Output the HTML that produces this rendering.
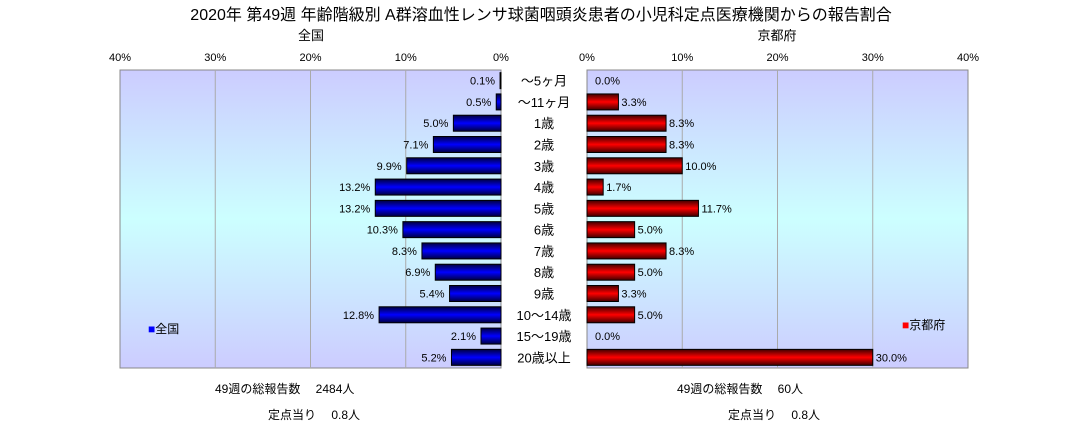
<!DOCTYPE html>
<html><head><meta charset="utf-8"><style>
body{margin:0;background:#fff;width:1083px;height:429px;overflow:hidden;font-family:"Liberation Sans","Noto Sans CJK JP",sans-serif}
svg text{font-family:"Liberation Sans","Noto Sans CJK JP",sans-serif}
</style></head><body>
<svg width="1083" height="429">
<defs>
<linearGradient id="bg" x1="0" y1="0" x2="0" y2="1"><stop offset="0" stop-color="#ccccff"/><stop offset="0.5" stop-color="#ccffff"/><stop offset="1" stop-color="#ccccff"/></linearGradient>
<linearGradient id="gb" x1="0" y1="0" x2="0" y2="1"><stop offset="0" stop-color="#000040"/><stop offset="0.5" stop-color="#0000ff"/><stop offset="1" stop-color="#000040"/></linearGradient>
<linearGradient id="gr" x1="0" y1="0" x2="0" y2="1"><stop offset="0" stop-color="#400000"/><stop offset="0.5" stop-color="#ff0000"/><stop offset="1" stop-color="#400000"/></linearGradient>
</defs>
<text x="541" y="20" font-size="16" text-anchor="middle">2020年 第49週 年齢階級別 A群溶血性レンサ球菌咽頭炎患者の小児科定点医療機関からの報告割合</text>
<text x="311" y="40" font-size="13" text-anchor="middle">全国</text>
<text x="777" y="40" font-size="13" text-anchor="middle">京都府</text>
<rect x="120" y="70" width="381" height="298" fill="url(#bg)" stroke="#888"/>
<rect x="587" y="70" width="381" height="298" fill="url(#bg)" stroke="#888"/>
<g id="g"></g>
<text x="148" y="333" font-size="12"><tspan fill="#0000ff">■</tspan>全国</text>
<text x="902" y="329" font-size="12"><tspan fill="#ff0000">■</tspan>京都府</text>
<text x="215" y="393" font-size="12">49週の総報告数　 2484人</text>
<text x="268" y="419" font-size="12">定点当り　 0.8人</text>
<text x="677" y="393" font-size="12">49週の総報告数　 60人</text>
<text x="728" y="419" font-size="12">定点当り　 0.8人</text>
</svg>
<script>
const categories=["〜5ヶ月","〜11ヶ月","1歳","2歳","3歳","4歳","5歳","6歳","7歳","8歳","9歳","10〜14歳","15〜19歳","20歳以上"];
const nationalValues=[0.1,0.5,5.0,7.1,9.9,13.2,13.2,10.3,8.3,6.9,5.4,12.8,2.1,5.2];
const kyotoValues=[0.0,3.3,8.3,8.3,10.0,1.7,11.7,5.0,8.3,5.0,3.3,5.0,0.0,30.0];
const tickLabels=["0%","10%","20%","30%","40%"];
const tickValues=[0,10,20,30,40];
const NS="http://www.w3.org/2000/svg",g=document.getElementById("g");
const L0=501,R0=587,W=381,MAX=40,plotTop=70,rowH=298/categories.length,barH=16;
const xl=v=>L0-v/MAX*W, xr=v=>R0+v/MAX*W, yc=i=>plotTop+rowH*(i+0.5);
function mk(t,a,txt){const e=document.createElementNS(NS,t);for(const k in a)e.setAttribute(k,a[k]);if(txt!=null)e.textContent=txt;g.appendChild(e);return e;}
tickValues.forEach((v,i)=>{
 if(v>0&&v<MAX){let e=mk("line",{x1:xl(v),x2:xl(v),y1:plotTop,y2:plotTop+298,stroke:"#aaa"});
 
 
 e=mk("line",{x1:xr(v),x2:xr(v),y1:plotTop,y2:plotTop+298,stroke:"#aaa"});
 
 }
 let t=mk("text",{x:xl(v),y:61,"font-size":11,"text-anchor":"middle"},tickLabels[i]);
 
 
 t=mk("text",{x:xr(v),y:61,"font-size":11,"text-anchor":"middle"},tickLabels[i]);
 
 
});
categories.forEach((c,i)=>{
 const y=yc(i);
 let t=mk("text",{x:544,y:y+5,"font-size":13,"text-anchor":"middle"},c);
 
 
 const nv=nationalValues[i];
 let b=mk("rect",{x:xl(nv),y:y-barH/2,width:L0-xl(nv),height:barH,fill:"url(#gb)",stroke:"#000","stroke-width":1});
 
 
 t=mk("text",{x:xl(nv)-5,y:y+4,"font-size":11,"text-anchor":"end"},nv.toFixed(1)+"%");
 
 
 const kv=kyotoValues[i];
 if(kv>0){b=mk("rect",{x:R0,y:y-barH/2,width:xr(kv)-R0,height:barH,fill:"url(#gr)",stroke:"#000","stroke-width":1});
 
 }
 t=mk("text",{x:xr(kv)+(kv>0?3:8),y:y+4,"font-size":11},kv.toFixed(1)+"%");
 
 
});
</script>
</body></html>
